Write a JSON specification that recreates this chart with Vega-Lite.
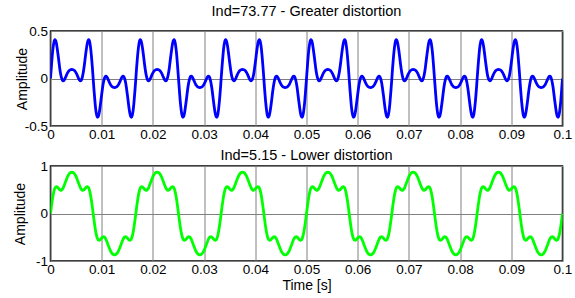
{
"$schema": "https://vega.github.io/schema/vega-lite/v6.json",
"background": "white",
"padding": {"left": 12.5, "top": 2, "right": 5, "bottom": 2},
"config": {
  "font": "Liberation Sans",
  "view": {"stroke": "black", "strokeWidth": 1.5},
  "axis": {"labelFont": "Liberation Sans", "labelFontSize": 13.5, "labelColor": "black", "titleFont": "Liberation Sans", "titleFontSize": 14, "titleFontWeight": "normal", "titleColor": "black", "ticks": false, "domain": false, "gridColor": "#808080", "gridOpacity": 1, "gridWidth": 1, "labelPadding": 3, "labelOverlap": false, "labelFlush": false},
  "title": {"font": "Liberation Sans", "fontSize": 14.5, "fontWeight": "normal", "color": "black"}
},
"datasets": {"w": [
{"t":0,"a":0,"b":0},{"t":0.00017,"a":0.123,"b":0.139},{"t":0.00033,"a":0.234,"b":0.269},{"t":0.0005,"a":0.323,"b":0.38},{"t":0.00067,"a":0.382,"b":0.466},{"t":0.00083,"a":0.408,"b":0.526},
{"t":0.001,"a":0.401,"b":0.558},{"t":0.00117,"a":0.366,"b":0.566},{"t":0.00133,"a":0.308,"b":0.557},{"t":0.0015,"a":0.239,"b":0.537},{"t":0.00167,"a":0.166,"b":0.515},{"t":0.00183,"a":0.098,"b":0.497},
{"t":0.002,"a":0.042,"b":0.489},{"t":0.00217,"a":0.003,"b":0.495},{"t":0.00233,"a":-0.019,"b":0.514},{"t":0.0025,"a":-0.025,"b":0.546},{"t":0.00267,"a":-0.017,"b":0.588},{"t":0.00283,"a":-0.001,"b":0.636},
{"t":0.003,"a":0.02,"b":0.686},{"t":0.00317,"a":0.041,"b":0.733},{"t":0.00333,"a":0.059,"b":0.775},{"t":0.0035,"a":0.074,"b":0.81},{"t":0.00367,"a":0.084,"b":0.837},{"t":0.00383,"a":0.091,"b":0.855},
{"t":0.004,"a":0.094,"b":0.866},{"t":0.00417,"a":0.095,"b":0.87},{"t":0.00433,"a":0.094,"b":0.866},{"t":0.0045,"a":0.091,"b":0.855},{"t":0.00467,"a":0.084,"b":0.837},{"t":0.00483,"a":0.074,"b":0.81},
{"t":0.005,"a":0.059,"b":0.775},{"t":0.00517,"a":0.041,"b":0.733},{"t":0.00533,"a":0.02,"b":0.686},{"t":0.0055,"a":-0.001,"b":0.636},{"t":0.00567,"a":-0.017,"b":0.588},{"t":0.00583,"a":-0.025,"b":0.546},
{"t":0.006,"a":-0.019,"b":0.514},{"t":0.00617,"a":0.003,"b":0.495},{"t":0.00633,"a":0.042,"b":0.489},{"t":0.0065,"a":0.098,"b":0.497},{"t":0.00667,"a":0.166,"b":0.515},{"t":0.00683,"a":0.239,"b":0.537},
{"t":0.007,"a":0.308,"b":0.557},{"t":0.00717,"a":0.366,"b":0.566},{"t":0.00733,"a":0.401,"b":0.558},{"t":0.0075,"a":0.408,"b":0.526},{"t":0.00767,"a":0.382,"b":0.466},{"t":0.00783,"a":0.323,"b":0.38},
{"t":0.008,"a":0.234,"b":0.269},{"t":0.00817,"a":0.123,"b":0.139},{"t":0.00833,"a":0,"b":0},{"t":0.0085,"a":-0.123,"b":-0.139},{"t":0.00867,"a":-0.234,"b":-0.269},{"t":0.00883,"a":-0.323,"b":-0.38},
{"t":0.009,"a":-0.382,"b":-0.466},{"t":0.00917,"a":-0.408,"b":-0.526},{"t":0.00933,"a":-0.401,"b":-0.558},{"t":0.0095,"a":-0.366,"b":-0.566},{"t":0.00967,"a":-0.308,"b":-0.557},{"t":0.00983,"a":-0.239,"b":-0.537},
{"t":0.01,"a":-0.166,"b":-0.515},{"t":0.01017,"a":-0.098,"b":-0.497},{"t":0.01033,"a":-0.042,"b":-0.489},{"t":0.0105,"a":-0.003,"b":-0.495},{"t":0.01067,"a":0.019,"b":-0.514},{"t":0.01083,"a":0.025,"b":-0.546},
{"t":0.011,"a":0.017,"b":-0.588},{"t":0.01117,"a":0.001,"b":-0.636},{"t":0.01133,"a":-0.02,"b":-0.686},{"t":0.0115,"a":-0.041,"b":-0.733},{"t":0.01167,"a":-0.059,"b":-0.775},{"t":0.01183,"a":-0.074,"b":-0.81},
{"t":0.012,"a":-0.084,"b":-0.837},{"t":0.01217,"a":-0.091,"b":-0.855},{"t":0.01233,"a":-0.094,"b":-0.866},{"t":0.0125,"a":-0.095,"b":-0.87},{"t":0.01267,"a":-0.094,"b":-0.866},{"t":0.01283,"a":-0.091,"b":-0.855},
{"t":0.013,"a":-0.084,"b":-0.837},{"t":0.01317,"a":-0.074,"b":-0.81},{"t":0.01333,"a":-0.059,"b":-0.775},{"t":0.0135,"a":-0.041,"b":-0.733},{"t":0.01367,"a":-0.02,"b":-0.686},{"t":0.01383,"a":0.001,"b":-0.636},
{"t":0.014,"a":0.017,"b":-0.588},{"t":0.01417,"a":0.025,"b":-0.546},{"t":0.01433,"a":0.019,"b":-0.514},{"t":0.0145,"a":-0.003,"b":-0.495},{"t":0.01467,"a":-0.042,"b":-0.489},{"t":0.01483,"a":-0.098,"b":-0.497},
{"t":0.015,"a":-0.166,"b":-0.515},{"t":0.01517,"a":-0.239,"b":-0.537},{"t":0.01533,"a":-0.308,"b":-0.557},{"t":0.0155,"a":-0.366,"b":-0.566},{"t":0.01567,"a":-0.401,"b":-0.558},{"t":0.01583,"a":-0.408,"b":-0.526},
{"t":0.016,"a":-0.382,"b":-0.466},{"t":0.01617,"a":-0.323,"b":-0.38},{"t":0.01633,"a":-0.234,"b":-0.269},{"t":0.0165,"a":-0.123,"b":-0.139},{"t":0.01667,"a":0,"b":0},{"t":0.01683,"a":0.123,"b":0.139},
{"t":0.017,"a":0.234,"b":0.269},{"t":0.01717,"a":0.323,"b":0.38},{"t":0.01733,"a":0.382,"b":0.466},{"t":0.0175,"a":0.408,"b":0.526},{"t":0.01767,"a":0.401,"b":0.558},{"t":0.01783,"a":0.366,"b":0.566},
{"t":0.018,"a":0.308,"b":0.557},{"t":0.01817,"a":0.239,"b":0.537},{"t":0.01833,"a":0.166,"b":0.515},{"t":0.0185,"a":0.098,"b":0.497},{"t":0.01867,"a":0.042,"b":0.489},{"t":0.01883,"a":0.003,"b":0.495},
{"t":0.019,"a":-0.019,"b":0.514},{"t":0.01917,"a":-0.025,"b":0.546},{"t":0.01933,"a":-0.017,"b":0.588},{"t":0.0195,"a":-0.001,"b":0.636},{"t":0.01967,"a":0.02,"b":0.686},{"t":0.01983,"a":0.041,"b":0.733},
{"t":0.02,"a":0.059,"b":0.775},{"t":0.02017,"a":0.074,"b":0.81},{"t":0.02033,"a":0.084,"b":0.837},{"t":0.0205,"a":0.091,"b":0.855},{"t":0.02067,"a":0.094,"b":0.866},{"t":0.02083,"a":0.095,"b":0.87},
{"t":0.021,"a":0.094,"b":0.866},{"t":0.02117,"a":0.091,"b":0.855},{"t":0.02133,"a":0.084,"b":0.837},{"t":0.0215,"a":0.074,"b":0.81},{"t":0.02167,"a":0.059,"b":0.775},{"t":0.02183,"a":0.041,"b":0.733},
{"t":0.022,"a":0.02,"b":0.686},{"t":0.02217,"a":-0.001,"b":0.636},{"t":0.02233,"a":-0.017,"b":0.588},{"t":0.0225,"a":-0.025,"b":0.546},{"t":0.02267,"a":-0.019,"b":0.514},{"t":0.02283,"a":0.003,"b":0.495},
{"t":0.023,"a":0.042,"b":0.489},{"t":0.02317,"a":0.098,"b":0.497},{"t":0.02333,"a":0.166,"b":0.515},{"t":0.0235,"a":0.239,"b":0.537},{"t":0.02367,"a":0.308,"b":0.557},{"t":0.02383,"a":0.366,"b":0.566},
{"t":0.024,"a":0.401,"b":0.558},{"t":0.02417,"a":0.408,"b":0.526},{"t":0.02433,"a":0.382,"b":0.466},{"t":0.0245,"a":0.323,"b":0.38},{"t":0.02467,"a":0.234,"b":0.269},{"t":0.02483,"a":0.123,"b":0.139},
{"t":0.025,"a":0,"b":0},{"t":0.02517,"a":-0.123,"b":-0.139},{"t":0.02533,"a":-0.234,"b":-0.269},{"t":0.0255,"a":-0.323,"b":-0.38},{"t":0.02567,"a":-0.382,"b":-0.466},{"t":0.02583,"a":-0.408,"b":-0.526},
{"t":0.026,"a":-0.401,"b":-0.558},{"t":0.02617,"a":-0.366,"b":-0.566},{"t":0.02633,"a":-0.308,"b":-0.557},{"t":0.0265,"a":-0.239,"b":-0.537},{"t":0.02667,"a":-0.166,"b":-0.515},{"t":0.02683,"a":-0.098,"b":-0.497},
{"t":0.027,"a":-0.042,"b":-0.489},{"t":0.02717,"a":-0.003,"b":-0.495},{"t":0.02733,"a":0.019,"b":-0.514},{"t":0.0275,"a":0.025,"b":-0.546},{"t":0.02767,"a":0.017,"b":-0.588},{"t":0.02783,"a":0.001,"b":-0.636},
{"t":0.028,"a":-0.02,"b":-0.686},{"t":0.02817,"a":-0.041,"b":-0.733},{"t":0.02833,"a":-0.059,"b":-0.775},{"t":0.0285,"a":-0.074,"b":-0.81},{"t":0.02867,"a":-0.084,"b":-0.837},{"t":0.02883,"a":-0.091,"b":-0.855},
{"t":0.029,"a":-0.094,"b":-0.866},{"t":0.02917,"a":-0.095,"b":-0.87},{"t":0.02933,"a":-0.094,"b":-0.866},{"t":0.0295,"a":-0.091,"b":-0.855},{"t":0.02967,"a":-0.084,"b":-0.837},{"t":0.02983,"a":-0.074,"b":-0.81},
{"t":0.03,"a":-0.059,"b":-0.775},{"t":0.03017,"a":-0.041,"b":-0.733},{"t":0.03033,"a":-0.02,"b":-0.686},{"t":0.0305,"a":0.001,"b":-0.636},{"t":0.03067,"a":0.017,"b":-0.588},{"t":0.03083,"a":0.025,"b":-0.546},
{"t":0.031,"a":0.019,"b":-0.514},{"t":0.03117,"a":-0.003,"b":-0.495},{"t":0.03133,"a":-0.042,"b":-0.489},{"t":0.0315,"a":-0.098,"b":-0.497},{"t":0.03167,"a":-0.166,"b":-0.515},{"t":0.03183,"a":-0.239,"b":-0.537},
{"t":0.032,"a":-0.308,"b":-0.557},{"t":0.03217,"a":-0.366,"b":-0.566},{"t":0.03233,"a":-0.401,"b":-0.558},{"t":0.0325,"a":-0.408,"b":-0.526},{"t":0.03267,"a":-0.382,"b":-0.466},{"t":0.03283,"a":-0.323,"b":-0.38},
{"t":0.033,"a":-0.234,"b":-0.269},{"t":0.03317,"a":-0.123,"b":-0.139},{"t":0.03333,"a":0,"b":0},{"t":0.0335,"a":0.123,"b":0.139},{"t":0.03367,"a":0.234,"b":0.269},{"t":0.03383,"a":0.323,"b":0.38},
{"t":0.034,"a":0.382,"b":0.466},{"t":0.03417,"a":0.408,"b":0.526},{"t":0.03433,"a":0.401,"b":0.558},{"t":0.0345,"a":0.366,"b":0.566},{"t":0.03467,"a":0.308,"b":0.557},{"t":0.03483,"a":0.239,"b":0.537},
{"t":0.035,"a":0.166,"b":0.515},{"t":0.03517,"a":0.098,"b":0.497},{"t":0.03533,"a":0.042,"b":0.489},{"t":0.0355,"a":0.003,"b":0.495},{"t":0.03567,"a":-0.019,"b":0.514},{"t":0.03583,"a":-0.025,"b":0.546},
{"t":0.036,"a":-0.017,"b":0.588},{"t":0.03617,"a":-0.001,"b":0.636},{"t":0.03633,"a":0.02,"b":0.686},{"t":0.0365,"a":0.041,"b":0.733},{"t":0.03667,"a":0.059,"b":0.775},{"t":0.03683,"a":0.074,"b":0.81},
{"t":0.037,"a":0.084,"b":0.837},{"t":0.03717,"a":0.091,"b":0.855},{"t":0.03733,"a":0.094,"b":0.866},{"t":0.0375,"a":0.095,"b":0.87},{"t":0.03767,"a":0.094,"b":0.866},{"t":0.03783,"a":0.091,"b":0.855},
{"t":0.038,"a":0.084,"b":0.837},{"t":0.03817,"a":0.074,"b":0.81},{"t":0.03833,"a":0.059,"b":0.775},{"t":0.0385,"a":0.041,"b":0.733},{"t":0.03867,"a":0.02,"b":0.686},{"t":0.03883,"a":-0.001,"b":0.636},
{"t":0.039,"a":-0.017,"b":0.588},{"t":0.03917,"a":-0.025,"b":0.546},{"t":0.03933,"a":-0.019,"b":0.514},{"t":0.0395,"a":0.003,"b":0.495},{"t":0.03967,"a":0.042,"b":0.489},{"t":0.03983,"a":0.098,"b":0.497},
{"t":0.04,"a":0.166,"b":0.515},{"t":0.04017,"a":0.239,"b":0.537},{"t":0.04033,"a":0.308,"b":0.557},{"t":0.0405,"a":0.366,"b":0.566},{"t":0.04067,"a":0.401,"b":0.558},{"t":0.04083,"a":0.408,"b":0.526},
{"t":0.041,"a":0.382,"b":0.466},{"t":0.04117,"a":0.323,"b":0.38},{"t":0.04133,"a":0.234,"b":0.269},{"t":0.0415,"a":0.123,"b":0.139},{"t":0.04167,"a":0,"b":0},{"t":0.04183,"a":-0.123,"b":-0.139},
{"t":0.042,"a":-0.234,"b":-0.269},{"t":0.04217,"a":-0.323,"b":-0.38},{"t":0.04233,"a":-0.382,"b":-0.466},{"t":0.0425,"a":-0.408,"b":-0.526},{"t":0.04267,"a":-0.401,"b":-0.558},{"t":0.04283,"a":-0.366,"b":-0.566},
{"t":0.043,"a":-0.308,"b":-0.557},{"t":0.04317,"a":-0.239,"b":-0.537},{"t":0.04333,"a":-0.166,"b":-0.515},{"t":0.0435,"a":-0.098,"b":-0.497},{"t":0.04367,"a":-0.042,"b":-0.489},{"t":0.04383,"a":-0.003,"b":-0.495},
{"t":0.044,"a":0.019,"b":-0.514},{"t":0.04417,"a":0.025,"b":-0.546},{"t":0.04433,"a":0.017,"b":-0.588},{"t":0.0445,"a":0.001,"b":-0.636},{"t":0.04467,"a":-0.02,"b":-0.686},{"t":0.04483,"a":-0.041,"b":-0.733},
{"t":0.045,"a":-0.059,"b":-0.775},{"t":0.04517,"a":-0.074,"b":-0.81},{"t":0.04533,"a":-0.084,"b":-0.837},{"t":0.0455,"a":-0.091,"b":-0.855},{"t":0.04567,"a":-0.094,"b":-0.866},{"t":0.04583,"a":-0.095,"b":-0.87},
{"t":0.046,"a":-0.094,"b":-0.866},{"t":0.04617,"a":-0.091,"b":-0.855},{"t":0.04633,"a":-0.084,"b":-0.837},{"t":0.0465,"a":-0.074,"b":-0.81},{"t":0.04667,"a":-0.059,"b":-0.775},{"t":0.04683,"a":-0.041,"b":-0.733},
{"t":0.047,"a":-0.02,"b":-0.686},{"t":0.04717,"a":0.001,"b":-0.636},{"t":0.04733,"a":0.017,"b":-0.588},{"t":0.0475,"a":0.025,"b":-0.546},{"t":0.04767,"a":0.019,"b":-0.514},{"t":0.04783,"a":-0.003,"b":-0.495},
{"t":0.048,"a":-0.042,"b":-0.489},{"t":0.04817,"a":-0.098,"b":-0.497},{"t":0.04833,"a":-0.166,"b":-0.515},{"t":0.0485,"a":-0.239,"b":-0.537},{"t":0.04867,"a":-0.308,"b":-0.557},{"t":0.04883,"a":-0.366,"b":-0.566},
{"t":0.049,"a":-0.401,"b":-0.558},{"t":0.04917,"a":-0.408,"b":-0.526},{"t":0.04933,"a":-0.382,"b":-0.466},{"t":0.0495,"a":-0.323,"b":-0.38},{"t":0.04967,"a":-0.234,"b":-0.269},{"t":0.04983,"a":-0.123,"b":-0.139},
{"t":0.05,"a":0,"b":0},{"t":0.05017,"a":0.123,"b":0.139},{"t":0.05033,"a":0.234,"b":0.269},{"t":0.0505,"a":0.323,"b":0.38},{"t":0.05067,"a":0.382,"b":0.466},{"t":0.05083,"a":0.408,"b":0.526},
{"t":0.051,"a":0.401,"b":0.558},{"t":0.05117,"a":0.366,"b":0.566},{"t":0.05133,"a":0.308,"b":0.557},{"t":0.0515,"a":0.239,"b":0.537},{"t":0.05167,"a":0.166,"b":0.515},{"t":0.05183,"a":0.098,"b":0.497},
{"t":0.052,"a":0.042,"b":0.489},{"t":0.05217,"a":0.003,"b":0.495},{"t":0.05233,"a":-0.019,"b":0.514},{"t":0.0525,"a":-0.025,"b":0.546},{"t":0.05267,"a":-0.017,"b":0.588},{"t":0.05283,"a":-0.001,"b":0.636},
{"t":0.053,"a":0.02,"b":0.686},{"t":0.05317,"a":0.041,"b":0.733},{"t":0.05333,"a":0.059,"b":0.775},{"t":0.0535,"a":0.074,"b":0.81},{"t":0.05367,"a":0.084,"b":0.837},{"t":0.05383,"a":0.091,"b":0.855},
{"t":0.054,"a":0.094,"b":0.866},{"t":0.05417,"a":0.095,"b":0.87},{"t":0.05433,"a":0.094,"b":0.866},{"t":0.0545,"a":0.091,"b":0.855},{"t":0.05467,"a":0.084,"b":0.837},{"t":0.05483,"a":0.074,"b":0.81},
{"t":0.055,"a":0.059,"b":0.775},{"t":0.05517,"a":0.041,"b":0.733},{"t":0.05533,"a":0.02,"b":0.686},{"t":0.0555,"a":-0.001,"b":0.636},{"t":0.05567,"a":-0.017,"b":0.588},{"t":0.05583,"a":-0.025,"b":0.546},
{"t":0.056,"a":-0.019,"b":0.514},{"t":0.05617,"a":0.003,"b":0.495},{"t":0.05633,"a":0.042,"b":0.489},{"t":0.0565,"a":0.098,"b":0.497},{"t":0.05667,"a":0.166,"b":0.515},{"t":0.05683,"a":0.239,"b":0.537},
{"t":0.057,"a":0.308,"b":0.557},{"t":0.05717,"a":0.366,"b":0.566},{"t":0.05733,"a":0.401,"b":0.558},{"t":0.0575,"a":0.408,"b":0.526},{"t":0.05767,"a":0.382,"b":0.466},{"t":0.05783,"a":0.323,"b":0.38},
{"t":0.058,"a":0.234,"b":0.269},{"t":0.05817,"a":0.123,"b":0.139},{"t":0.05833,"a":0,"b":0},{"t":0.0585,"a":-0.123,"b":-0.139},{"t":0.05867,"a":-0.234,"b":-0.269},{"t":0.05883,"a":-0.323,"b":-0.38},
{"t":0.059,"a":-0.382,"b":-0.466},{"t":0.05917,"a":-0.408,"b":-0.526},{"t":0.05933,"a":-0.401,"b":-0.558},{"t":0.0595,"a":-0.366,"b":-0.566},{"t":0.05967,"a":-0.308,"b":-0.557},{"t":0.05983,"a":-0.239,"b":-0.537},
{"t":0.06,"a":-0.166,"b":-0.515},{"t":0.06017,"a":-0.098,"b":-0.497},{"t":0.06033,"a":-0.042,"b":-0.489},{"t":0.0605,"a":-0.003,"b":-0.495},{"t":0.06067,"a":0.019,"b":-0.514},{"t":0.06083,"a":0.025,"b":-0.546},
{"t":0.061,"a":0.017,"b":-0.588},{"t":0.06117,"a":0.001,"b":-0.636},{"t":0.06133,"a":-0.02,"b":-0.686},{"t":0.0615,"a":-0.041,"b":-0.733},{"t":0.06167,"a":-0.059,"b":-0.775},{"t":0.06183,"a":-0.074,"b":-0.81},
{"t":0.062,"a":-0.084,"b":-0.837},{"t":0.06217,"a":-0.091,"b":-0.855},{"t":0.06233,"a":-0.094,"b":-0.866},{"t":0.0625,"a":-0.095,"b":-0.87},{"t":0.06267,"a":-0.094,"b":-0.866},{"t":0.06283,"a":-0.091,"b":-0.855},
{"t":0.063,"a":-0.084,"b":-0.837},{"t":0.06317,"a":-0.074,"b":-0.81},{"t":0.06333,"a":-0.059,"b":-0.775},{"t":0.0635,"a":-0.041,"b":-0.733},{"t":0.06367,"a":-0.02,"b":-0.686},{"t":0.06383,"a":0.001,"b":-0.636},
{"t":0.064,"a":0.017,"b":-0.588},{"t":0.06417,"a":0.025,"b":-0.546},{"t":0.06433,"a":0.019,"b":-0.514},{"t":0.0645,"a":-0.003,"b":-0.495},{"t":0.06467,"a":-0.042,"b":-0.489},{"t":0.06483,"a":-0.098,"b":-0.497},
{"t":0.065,"a":-0.166,"b":-0.515},{"t":0.06517,"a":-0.239,"b":-0.537},{"t":0.06533,"a":-0.308,"b":-0.557},{"t":0.0655,"a":-0.366,"b":-0.566},{"t":0.06567,"a":-0.401,"b":-0.558},{"t":0.06583,"a":-0.408,"b":-0.526},
{"t":0.066,"a":-0.382,"b":-0.466},{"t":0.06617,"a":-0.323,"b":-0.38},{"t":0.06633,"a":-0.234,"b":-0.269},{"t":0.0665,"a":-0.123,"b":-0.139},{"t":0.06667,"a":0,"b":0},{"t":0.06683,"a":0.123,"b":0.139},
{"t":0.067,"a":0.234,"b":0.269},{"t":0.06717,"a":0.323,"b":0.38},{"t":0.06733,"a":0.382,"b":0.466},{"t":0.0675,"a":0.408,"b":0.526},{"t":0.06767,"a":0.401,"b":0.558},{"t":0.06783,"a":0.366,"b":0.566},
{"t":0.068,"a":0.308,"b":0.557},{"t":0.06817,"a":0.239,"b":0.537},{"t":0.06833,"a":0.166,"b":0.515},{"t":0.0685,"a":0.098,"b":0.497},{"t":0.06867,"a":0.042,"b":0.489},{"t":0.06883,"a":0.003,"b":0.495},
{"t":0.069,"a":-0.019,"b":0.514},{"t":0.06917,"a":-0.025,"b":0.546},{"t":0.06933,"a":-0.017,"b":0.588},{"t":0.0695,"a":-0.001,"b":0.636},{"t":0.06967,"a":0.02,"b":0.686},{"t":0.06983,"a":0.041,"b":0.733},
{"t":0.07,"a":0.059,"b":0.775},{"t":0.07017,"a":0.074,"b":0.81},{"t":0.07033,"a":0.084,"b":0.837},{"t":0.0705,"a":0.091,"b":0.855},{"t":0.07067,"a":0.094,"b":0.866},{"t":0.07083,"a":0.095,"b":0.87},
{"t":0.071,"a":0.094,"b":0.866},{"t":0.07117,"a":0.091,"b":0.855},{"t":0.07133,"a":0.084,"b":0.837},{"t":0.0715,"a":0.074,"b":0.81},{"t":0.07167,"a":0.059,"b":0.775},{"t":0.07183,"a":0.041,"b":0.733},
{"t":0.072,"a":0.02,"b":0.686},{"t":0.07217,"a":-0.001,"b":0.636},{"t":0.07233,"a":-0.017,"b":0.588},{"t":0.0725,"a":-0.025,"b":0.546},{"t":0.07267,"a":-0.019,"b":0.514},{"t":0.07283,"a":0.003,"b":0.495},
{"t":0.073,"a":0.042,"b":0.489},{"t":0.07317,"a":0.098,"b":0.497},{"t":0.07333,"a":0.166,"b":0.515},{"t":0.0735,"a":0.239,"b":0.537},{"t":0.07367,"a":0.308,"b":0.557},{"t":0.07383,"a":0.366,"b":0.566},
{"t":0.074,"a":0.401,"b":0.558},{"t":0.07417,"a":0.408,"b":0.526},{"t":0.07433,"a":0.382,"b":0.466},{"t":0.0745,"a":0.323,"b":0.38},{"t":0.07467,"a":0.234,"b":0.269},{"t":0.07483,"a":0.123,"b":0.139},
{"t":0.075,"a":0,"b":0},{"t":0.07517,"a":-0.123,"b":-0.139},{"t":0.07533,"a":-0.234,"b":-0.269},{"t":0.0755,"a":-0.323,"b":-0.38},{"t":0.07567,"a":-0.382,"b":-0.466},{"t":0.07583,"a":-0.408,"b":-0.526},
{"t":0.076,"a":-0.401,"b":-0.558},{"t":0.07617,"a":-0.366,"b":-0.566},{"t":0.07633,"a":-0.308,"b":-0.557},{"t":0.0765,"a":-0.239,"b":-0.537},{"t":0.07667,"a":-0.166,"b":-0.515},{"t":0.07683,"a":-0.098,"b":-0.497},
{"t":0.077,"a":-0.042,"b":-0.489},{"t":0.07717,"a":-0.003,"b":-0.495},{"t":0.07733,"a":0.019,"b":-0.514},{"t":0.0775,"a":0.025,"b":-0.546},{"t":0.07767,"a":0.017,"b":-0.588},{"t":0.07783,"a":0.001,"b":-0.636},
{"t":0.078,"a":-0.02,"b":-0.686},{"t":0.07817,"a":-0.041,"b":-0.733},{"t":0.07833,"a":-0.059,"b":-0.775},{"t":0.0785,"a":-0.074,"b":-0.81},{"t":0.07867,"a":-0.084,"b":-0.837},{"t":0.07883,"a":-0.091,"b":-0.855},
{"t":0.079,"a":-0.094,"b":-0.866},{"t":0.07917,"a":-0.095,"b":-0.87},{"t":0.07933,"a":-0.094,"b":-0.866},{"t":0.0795,"a":-0.091,"b":-0.855},{"t":0.07967,"a":-0.084,"b":-0.837},{"t":0.07983,"a":-0.074,"b":-0.81},
{"t":0.08,"a":-0.059,"b":-0.775},{"t":0.08017,"a":-0.041,"b":-0.733},{"t":0.08033,"a":-0.02,"b":-0.686},{"t":0.0805,"a":0.001,"b":-0.636},{"t":0.08067,"a":0.017,"b":-0.588},{"t":0.08083,"a":0.025,"b":-0.546},
{"t":0.081,"a":0.019,"b":-0.514},{"t":0.08117,"a":-0.003,"b":-0.495},{"t":0.08133,"a":-0.042,"b":-0.489},{"t":0.0815,"a":-0.098,"b":-0.497},{"t":0.08167,"a":-0.166,"b":-0.515},{"t":0.08183,"a":-0.239,"b":-0.537},
{"t":0.082,"a":-0.308,"b":-0.557},{"t":0.08217,"a":-0.366,"b":-0.566},{"t":0.08233,"a":-0.401,"b":-0.558},{"t":0.0825,"a":-0.408,"b":-0.526},{"t":0.08267,"a":-0.382,"b":-0.466},{"t":0.08283,"a":-0.323,"b":-0.38},
{"t":0.083,"a":-0.234,"b":-0.269},{"t":0.08317,"a":-0.123,"b":-0.139},{"t":0.08333,"a":0,"b":0},{"t":0.0835,"a":0.123,"b":0.139},{"t":0.08367,"a":0.234,"b":0.269},{"t":0.08383,"a":0.323,"b":0.38},
{"t":0.084,"a":0.382,"b":0.466},{"t":0.08417,"a":0.408,"b":0.526},{"t":0.08433,"a":0.401,"b":0.558},{"t":0.0845,"a":0.366,"b":0.566},{"t":0.08467,"a":0.308,"b":0.557},{"t":0.08483,"a":0.239,"b":0.537},
{"t":0.085,"a":0.166,"b":0.515},{"t":0.08517,"a":0.098,"b":0.497},{"t":0.08533,"a":0.042,"b":0.489},{"t":0.0855,"a":0.003,"b":0.495},{"t":0.08567,"a":-0.019,"b":0.514},{"t":0.08583,"a":-0.025,"b":0.546},
{"t":0.086,"a":-0.017,"b":0.588},{"t":0.08617,"a":-0.001,"b":0.636},{"t":0.08633,"a":0.02,"b":0.686},{"t":0.0865,"a":0.041,"b":0.733},{"t":0.08667,"a":0.059,"b":0.775},{"t":0.08683,"a":0.074,"b":0.81},
{"t":0.087,"a":0.084,"b":0.837},{"t":0.08717,"a":0.091,"b":0.855},{"t":0.08733,"a":0.094,"b":0.866},{"t":0.0875,"a":0.095,"b":0.87},{"t":0.08767,"a":0.094,"b":0.866},{"t":0.08783,"a":0.091,"b":0.855},
{"t":0.088,"a":0.084,"b":0.837},{"t":0.08817,"a":0.074,"b":0.81},{"t":0.08833,"a":0.059,"b":0.775},{"t":0.0885,"a":0.041,"b":0.733},{"t":0.08867,"a":0.02,"b":0.686},{"t":0.08883,"a":-0.001,"b":0.636},
{"t":0.089,"a":-0.017,"b":0.588},{"t":0.08917,"a":-0.025,"b":0.546},{"t":0.08933,"a":-0.019,"b":0.514},{"t":0.0895,"a":0.003,"b":0.495},{"t":0.08967,"a":0.042,"b":0.489},{"t":0.08983,"a":0.098,"b":0.497},
{"t":0.09,"a":0.166,"b":0.515},{"t":0.09017,"a":0.239,"b":0.537},{"t":0.09033,"a":0.308,"b":0.557},{"t":0.0905,"a":0.366,"b":0.566},{"t":0.09067,"a":0.401,"b":0.558},{"t":0.09083,"a":0.408,"b":0.526},
{"t":0.091,"a":0.382,"b":0.466},{"t":0.09117,"a":0.323,"b":0.38},{"t":0.09133,"a":0.234,"b":0.269},{"t":0.0915,"a":0.123,"b":0.139},{"t":0.09167,"a":0,"b":0},{"t":0.09183,"a":-0.123,"b":-0.139},
{"t":0.092,"a":-0.234,"b":-0.269},{"t":0.09217,"a":-0.323,"b":-0.38},{"t":0.09233,"a":-0.382,"b":-0.466},{"t":0.0925,"a":-0.408,"b":-0.526},{"t":0.09267,"a":-0.401,"b":-0.558},{"t":0.09283,"a":-0.366,"b":-0.566},
{"t":0.093,"a":-0.308,"b":-0.557},{"t":0.09317,"a":-0.239,"b":-0.537},{"t":0.09333,"a":-0.166,"b":-0.515},{"t":0.0935,"a":-0.098,"b":-0.497},{"t":0.09367,"a":-0.042,"b":-0.489},{"t":0.09383,"a":-0.003,"b":-0.495},
{"t":0.094,"a":0.019,"b":-0.514},{"t":0.09417,"a":0.025,"b":-0.546},{"t":0.09433,"a":0.017,"b":-0.588},{"t":0.0945,"a":0.001,"b":-0.636},{"t":0.09467,"a":-0.02,"b":-0.686},{"t":0.09483,"a":-0.041,"b":-0.733},
{"t":0.095,"a":-0.059,"b":-0.775},{"t":0.09517,"a":-0.074,"b":-0.81},{"t":0.09533,"a":-0.084,"b":-0.837},{"t":0.0955,"a":-0.091,"b":-0.855},{"t":0.09567,"a":-0.094,"b":-0.866},{"t":0.09583,"a":-0.095,"b":-0.87},
{"t":0.096,"a":-0.094,"b":-0.866},{"t":0.09617,"a":-0.091,"b":-0.855},{"t":0.09633,"a":-0.084,"b":-0.837},{"t":0.0965,"a":-0.074,"b":-0.81},{"t":0.09667,"a":-0.059,"b":-0.775},{"t":0.09683,"a":-0.041,"b":-0.733},
{"t":0.097,"a":-0.02,"b":-0.686},{"t":0.09717,"a":0.001,"b":-0.636},{"t":0.09733,"a":0.017,"b":-0.588},{"t":0.0975,"a":0.025,"b":-0.546},{"t":0.09767,"a":0.019,"b":-0.514},{"t":0.09783,"a":-0.003,"b":-0.495},
{"t":0.098,"a":-0.042,"b":-0.489},{"t":0.09817,"a":-0.098,"b":-0.497},{"t":0.09833,"a":-0.166,"b":-0.515},{"t":0.0985,"a":-0.239,"b":-0.537},{"t":0.09867,"a":-0.308,"b":-0.557},{"t":0.09883,"a":-0.366,"b":-0.566},
{"t":0.099,"a":-0.401,"b":-0.558},{"t":0.09917,"a":-0.408,"b":-0.526},{"t":0.09933,"a":-0.382,"b":-0.466},{"t":0.0995,"a":-0.323,"b":-0.38},{"t":0.09967,"a":-0.234,"b":-0.269},{"t":0.09983,"a":-0.123,"b":-0.139},
{"t":0.1,"a":0,"b":0}
]},
"data": {"name": "w"},
"bounds": "flush",
"spacing": 40,
"vconcat": [
  {
    "title": {"text": "Ind=73.77 - Greater distortion", "offset": 5},
    "width": 512, "height": 95,
    "mark": {"type": "line", "color": "#0000ff", "strokeWidth": 2.8, "interpolate": "monotone", "clip": true},
    "encoding": {
      "x": {"field": "t", "type": "quantitative", "scale": {"domain": [0, 0.1], "nice": false, "zero": false},
            "axis": {"values": [0, 0.01, 0.02, 0.03, 0.04, 0.05, 0.06, 0.07, 0.08, 0.09, 0.1], "labelExpr": "'' + datum.value", "title": null, "labelPadding": 1}},
      "y": {"field": "a", "type": "quantitative", "scale": {"domain": [-0.5, 0.5], "nice": false},
            "axis": {"values": [-0.5, 0, 0.5], "labelExpr": "'' + datum.value", "title": "Amplitude", "titlePadding": -5.5}}
    }
  },
  {
    "title": {"text": "Ind=5.15 - Lower distortion", "offset": -4},
    "width": 512, "height": 95,
    "mark": {"type": "line", "color": "#00ff00", "strokeWidth": 2.8, "interpolate": "monotone", "clip": true},
    "encoding": {
      "x": {"field": "t", "type": "quantitative", "scale": {"domain": [0, 0.1], "nice": false, "zero": false},
            "axis": {"values": [0, 0.01, 0.02, 0.03, 0.04, 0.05, 0.06, 0.07, 0.08, 0.09, 0.1], "labelExpr": "'' + datum.value", "title": "Time [s]", "labelPadding": 1, "titlePadding": 3}},
      "y": {"field": "b", "type": "quantitative", "scale": {"domain": [-1, 1], "nice": false},
            "axis": {"values": [-1, 0, 1], "labelExpr": "'' + datum.value", "title": "Amplitude", "titlePadding": 8}}
    }
  }
]
}
